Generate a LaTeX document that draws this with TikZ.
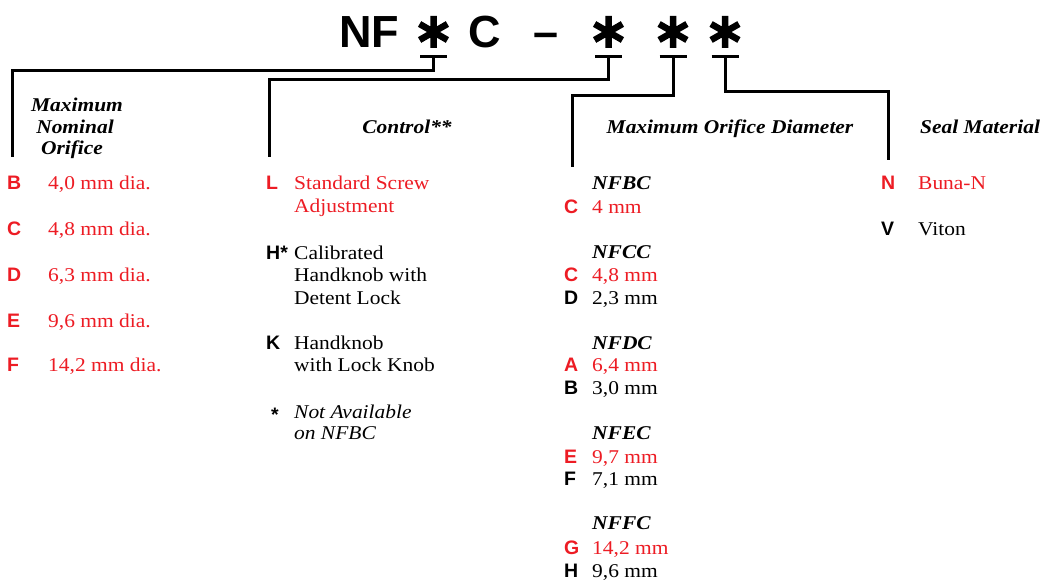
\documentclass[tikz,border=0pt]{standalone}
\usepackage{fontspec}
\setmainfont[FakeStretch=1.1]{Liberation Serif}
\newfontfamily\hsans{Liberation Sans}
\definecolor{cred}{RGB}{237,28,36}
\tikzset{
  body/.style={anchor=base west, inner sep=0pt, font=\fontsize{19.5}{22}\selectfont},
  hdr/.style={anchor=base, inner sep=0pt, font=\fontsize{19.5}{22}\selectfont\bfseries\itshape},
  hdrw/.style={anchor=base west, inner sep=0pt, font=\fontsize{19.5}{22}\selectfont\bfseries\itshape},
  key/.style={anchor=base west, inner sep=0pt, font=\hsans\fontsize{19.5}{22}\selectfont\bfseries},
  ttl/.style={inner sep=0pt, font=\hsans\fontsize{45}{45}\selectfont\bfseries},
  sel/.style={text=cred},
  conn/.style={line width=3pt},
  heavyast/.pic={\draw[line width=6.5pt] (0,-16)--(0,16) (-13.9,-8)--(13.9,8) (-13.9,8)--(13.9,-8);}
}
\begin{document}
\begin{tikzpicture}[x=1pt,y=-1pt]
\useasboundingbox[fill=white] (0,0) rectangle (1041,580);
% title
\node[ttl, anchor=base west] (nf) at (339,48) {NF};
\node[ttl, anchor=base west] (cc) at (468,48) {C};
\node[ttl, anchor=base] (dash) at (546,48) {–};
\pic at (433.5,32) {heavyast};
\pic at (608.5,32) {heavyast};
\pic at (673,32) {heavyast};
\pic at (725,32) {heavyast};
% ticks
\coordinate (t1) at (433.5,57);
\coordinate (t2) at (608.5,57);
\coordinate (t3) at (673,57);
\coordinate (t4) at (725,57);
\foreach \t in {t1,t2,t3,t4}{\draw[conn] ([xshift=-13.5pt]\t) -- ([xshift=13.5pt]\t);}
% column ends
\coordinate (e1) at (12,157);
\coordinate (e2) at (269,157);
\coordinate (e3) at (572,167);
\coordinate (e4) at (888,160);
\draw[conn] (t1) -- ++(0,14) -| (e1);
\draw[conn] (t2) -- ++(0,23) -| (e2);
\draw[conn] (t3) -- ++(0,39) -| (e3);
\draw[conn] (t4) -- ++(0,35) -| (e4);
% column 1
\node[hdr] (h1a) at (77,112) {Maximum};
\node[hdr] (h1b) at (75,134) {Nominal};
\node[hdr] (h1c) at (72,155) {Orifice};
\node[key,sel] (kB) at (7,190) {B}; \node[body,sel] (vB) at (48,190) {4,0 mm dia.};
\node[key,sel] (kC) at (7,236) {C}; \node[body,sel] (vC) at (48,236) {4,8 mm dia.};
\node[key,sel] (kD) at (7,281) {D}; \node[body,sel] (vD) at (48,281) {6,3 mm dia.};
\node[key,sel] (kE) at (7,327) {E}; \node[body,sel] (vE) at (48,327) {9,6 mm dia.};
\node[key,sel] (kF) at (7,371) {F}; \node[body,sel] (vF) at (48,371) {14,2 mm dia.};
% column 2
\node[hdr] (h2) at (407,134) {Control**};
\node[key,sel] (kL) at (266,190) {L};
\node[body,sel] (vL1) at (294,190) {Standard Screw};
\node[body,sel] (vL2) at (294,213) {Adjustment};
\node[key] (kH) at (266,259) {H*};
\node[body] (vH1) at (294,259) {Calibrated};
\node[body] (vH2) at (294,281) {Handknob with};
\node[body] (vH3) at (294,304) {Detent Lock};
\node[key] (kK) at (266,349) {K};
\node[body] (vK1) at (294,349) {Handknob};
\node[body] (vK2) at (294,371) {with Lock Knob};
\node[key] (kst) at (271,421) {*};
\node[body,font=\fontsize{19.5}{22}\selectfont\itshape] (n1) at (294,418) {Not Available};
\node[body,font=\fontsize{19.5}{22}\selectfont\itshape] (n2) at (294,439) {on NFBC};
% column 3
\node[hdr] (h3) at (730,134) {Maximum Orifice Diameter};
\node[hdrw] (g1) at (592,190) {NFBC};
\node[key,sel] (o1k) at (564,214) {C}; \node[body,sel] (o1v) at (592,214) {4 mm};
\node[hdrw] (g2) at (592,258) {NFCC};
\node[key,sel] (o2k) at (564,281) {C}; \node[body,sel] (o2v) at (592,281) {4,8 mm};
\node[key] (o3k) at (564,304) {D}; \node[body] (o3v) at (592,304) {2,3 mm};
\node[hdrw] (g3) at (592,349) {NFDC};
\node[key,sel] (o4k) at (564,371) {A}; \node[body,sel] (o4v) at (592,371) {6,4 mm};
\node[key] (o5k) at (564,394) {B}; \node[body] (o5v) at (592,394) {3,0 mm};
\node[hdrw] (g4) at (592,439) {NFEC};
\node[key,sel] (o6k) at (564,463) {E}; \node[body,sel] (o6v) at (592,463) {9,7 mm};
\node[key] (o7k) at (564,485) {F}; \node[body] (o7v) at (592,485) {7,1 mm};
\node[hdrw] (g5) at (592,529) {NFFC};
\node[key,sel] (o8k) at (564,554) {G}; \node[body,sel] (o8v) at (592,554) {14,2 mm};
\node[key] (o9k) at (564,577) {H}; \node[body] (o9v) at (592,577) {9,6 mm};
% column 4
\node[hdrw] (h4) at (920,134) {Seal Material};
\node[key,sel] (sN) at (881,190) {N}; \node[body,sel] (sNv) at (918,190) {Buna-N};
\node[key] (sV) at (881,236) {V}; \node[body] (sVv) at (918,236) {Viton};
\end{tikzpicture}
\end{document}
